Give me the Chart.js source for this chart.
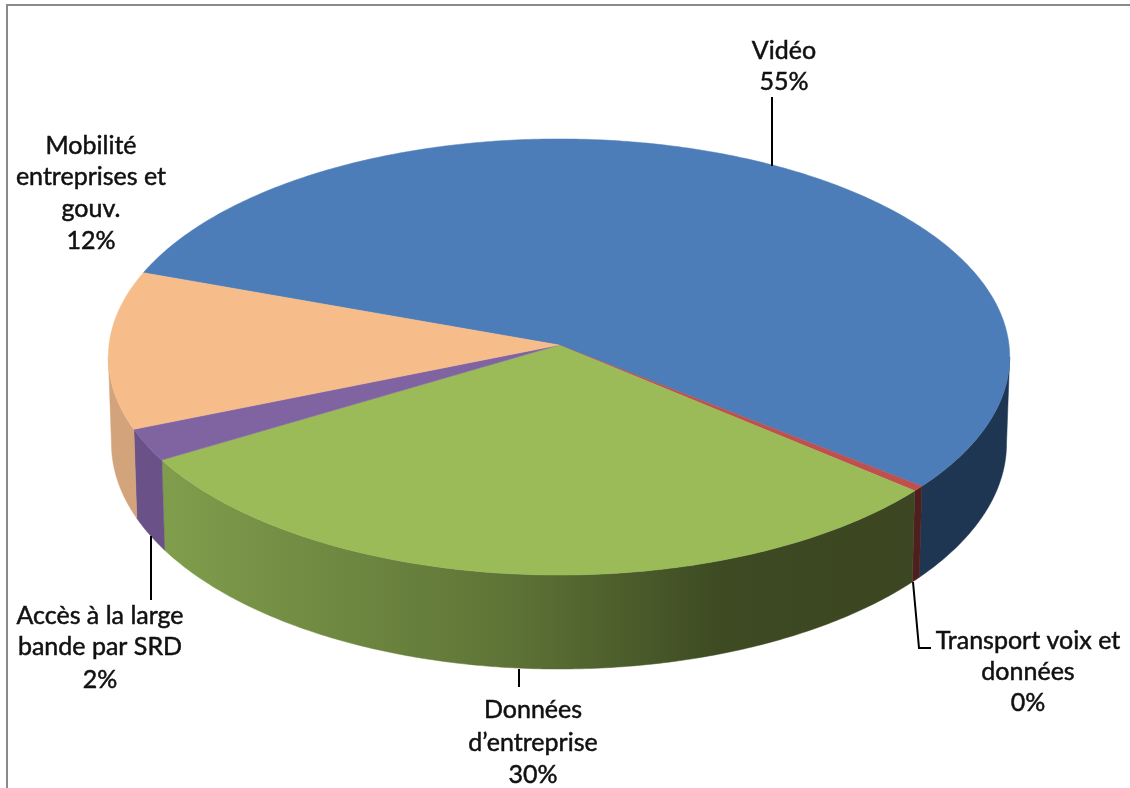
<!DOCTYPE html>
<html>
<head>
<meta charset="utf-8">
<script src="https://cdn.jsdelivr.net/npm/chart.js@4/dist/chart.umd.min.js"></script>
<style>
  html, body { margin: 0; background: #fff; }
  canvas { display: block; }
</style>
</head>
<body>
<canvas id="pie-chart" width="1130" height="788"></canvas>
<script>
// categories, one entry per line of the label
const categories = [
  ["Vidéo"],
  ["Transport voix et", "données"],
  ["Données", "d’entreprise"],
  ["Accès à la large", "bande par SRD"],
  ["Mobilité", "entreprises et", "gouv."]
]
// shares (labels round them)
const shares = [55.3, 0.4, 30.2, 2.4, 11.7]
const topColors = ["#4d7db9", "#c0504d", "#9bbb59", "#8064a2", "#f6bd8b"]
const wallColors = ["#1f3652", "#4f1e1e", null, "#6a5288", "#d3a47c"]

// where the labels sit: centre x, y of each line
const labelX = [784, 1028, 533, 100, 91]
const labelY = [[51, 82], [641, 672, 703], [710, 743, 775], [616, 647, 680], [146, 177, 209, 241]]
const leaders = [
  [[772, 97], [772, 166]],
  [[913, 582], [919, 648], [931, 648]],
  [[519, 669], [519, 687]],
  [[151, 536], [151, 600]],
  []
]

// perspective of the disc: point on the unit circle to screen
function rim(angle, lower) {
  const u = Math.cos(angle), v = Math.sin(angle)
  const w = 1 - 0.055 * v
  let x = 450 * u / w
  let y = (345 + 198.4 * v) / w
  if (lower) {
    x *= 0.993
    y += 86 + 8 * v
  }
  return [559 + x, y]
}

function traceRim(ctx, from, to, lower, first) {
  const steps = Math.max(2, Math.ceil(Math.abs(to - from) * 90))
  for (let i = 0; i <= steps; i++) {
    const p = rim(from + (to - from) * i / steps, lower)
    if (i === 0 && first) ctx.moveTo(p[0], p[1])
    else ctx.lineTo(p[0], p[1])
  }
}

// the wall only shows between the two side tips of the disc
const tip = Math.asin(0.055)

const disc3d = {
  id: "disc3d",
  beforeDatasetsDraw(chart) {
    const ctx = chart.ctx
    const arcs = chart.getDatasetMeta(0).data

    // frame of the chart area, only left and top show
    ctx.strokeStyle = "#8a8a8a"
    ctx.lineWidth = 2
    ctx.beginPath()
    ctx.moveTo(7, 788)
    ctx.lineTo(7, 5)
    ctx.lineTo(1130, 5)
    ctx.stroke()

    const greenWall = ctx.createLinearGradient(163, 0, 912, 0)
    greenWall.addColorStop(0, "#809d4c")
    greenWall.addColorStop(0.45, "#5f7537")
    greenWall.addColorStop(0.75, "#3d4a22")
    greenWall.addColorStop(1, "#3c4622")

    // side walls first
    arcs.forEach((arc, i) => {
      ctx.fillStyle = wallColors[i] || greenWall
      ctx.strokeStyle = ctx.fillStyle
      ctx.lineWidth = 0.5
      for (let turn = -1; turn <= 2; turn++) {
        const from = Math.max(arc.startAngle, tip + turn * 2 * Math.PI)
        const to = Math.min(arc.endAngle, Math.PI - tip + turn * 2 * Math.PI)
        if (to <= from) continue
        ctx.beginPath()
        traceRim(ctx, from, to, false, true)
        traceRim(ctx, to, from, true, false)
        ctx.closePath()
        ctx.fill()
        ctx.stroke()
      }
    })

    // top face, slices meet under the perspective centre
    arcs.forEach((arc, i) => {
      ctx.fillStyle = topColors[i]
      ctx.strokeStyle = topColors[i]
      ctx.lineWidth = 0.5
      ctx.beginPath()
      ctx.moveTo(559, 345)
      traceRim(ctx, arc.startAngle, arc.endAngle, false, false)
      ctx.closePath()
      ctx.fill()
      ctx.stroke()
    })

    // leader lines
    ctx.strokeStyle = "#000"
    ctx.lineWidth = 2
    leaders.forEach(line => {
      if (!line.length) return
      ctx.beginPath()
      line.forEach((p, k) => k ? ctx.lineTo(p[0], p[1]) : ctx.moveTo(p[0], p[1]))
      ctx.stroke()
    })

    // labels, a thin stroke gives them the weight of the original
    ctx.fillStyle = "#111"
    ctx.strokeStyle = "#111"
    ctx.lineWidth = 0.5
    ctx.font = "25px Lato, 'Open Sans', sans-serif"
    ctx.textAlign = "center"
    ctx.textBaseline = "middle"
    categories.forEach((lines, i) => {
      const text = lines.concat(Math.round(shares[i]) + "%")
      text.forEach((t, k) => {
        ctx.fillText(t, labelX[i], labelY[i][k])
        ctx.strokeText(t, labelX[i], labelY[i][k])
      })
    })
    return false
  }
}

new Chart(document.getElementById("pie-chart"), {
  type: "pie",
  data: {
    labels: categories,
    datasets: [{
      data: shares,
      backgroundColor: topColors
    }]
  },
  options: {
    responsive: false,
    animation: false,
    rotation: 289.8,
    plugins: {
      legend: { display: false },
      tooltip: { enabled: false }
    }
  },
  plugins: [disc3d]
})
</script>
</body>
</html>
